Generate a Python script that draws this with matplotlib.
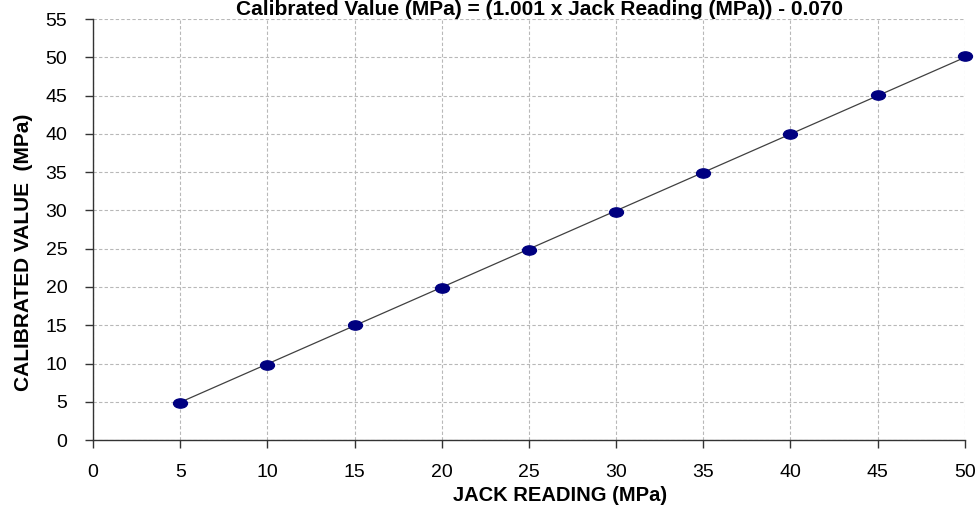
"""Jack calibration chart: calibrated value vs jack reading with linear fit."""

import numpy as np
import matplotlib
matplotlib.use("Agg")
import matplotlib.pyplot as plt
from matplotlib.path import Path
from matplotlib.transforms import Affine2D

jack_reading = [5, 10, 15, 20, 25, 30, 35, 40, 45, 50]
calibrated = [4.9, 9.85, 15.0, 19.8, 24.85, 29.8, 34.95, 40.0, 45.05, 50.2]
fit_slope = 1.001
fit_intercept = -0.070
title = "Calibrated Value (MPa) = (1.001 x Jack Reading (MPa)) - 0.070"

plt.rcParams["font.family"] = ["Liberation Sans", "DejaVu Sans"]

fig = plt.figure(figsize=(9.79, 5.07), dpi=100)
ax = fig.add_axes([0.095, 0.132, 0.8905, 0.8305])

# trendline across the data range
xs = np.array([min(jack_reading), max(jack_reading)])
ax.plot(xs, fit_slope * xs + fit_intercept, color="#404040", lw=0.9, zorder=2)

ellipse = Path.unit_circle().transformed(Affine2D().scale(1.5, 1.0))
ax.plot(jack_reading, calibrated, ls="none", marker=ellipse, ms=10,
        color="#000080", mec="#000080", zorder=3, clip_on=False)

ax.set_xlim(0, 50)
ax.set_ylim(0, 55)
ax.set_xticks(range(0, 51, 5))
ax.set_yticks(range(0, 56, 5))
ax.grid(True, color="#b8b8b8", ls=(0, (3, 2)), lw=0.8)
ax.set_axisbelow(True)
for s in ("top", "right"):
    ax.spines[s].set_visible(False)
for s in ("left", "bottom"):
    ax.spines[s].set_color("#333333")
    ax.spines[s].set_linewidth(1.0)
ax.tick_params(direction="out", length=5.5, width=1, color="#333333",
               labelsize=14)
ax.tick_params(axis="x", pad=12)
ax.tick_params(axis="y", pad=13)

ax.set_xlabel("JACK READING (MPa)", fontsize=14.5, fontweight="bold")
ax.xaxis.set_label_coords(0.536, -0.108)
ax.set_ylabel("CALIBRATED VALUE  (MPa)", fontsize=15, fontweight="bold")
ax.yaxis.set_label_coords(-0.069, 0.445)
fig.text(0.551, 1.0, title, ha="center", va="top",
         fontsize=15, fontweight="bold")

fig.savefig("out.png", dpi=100)
